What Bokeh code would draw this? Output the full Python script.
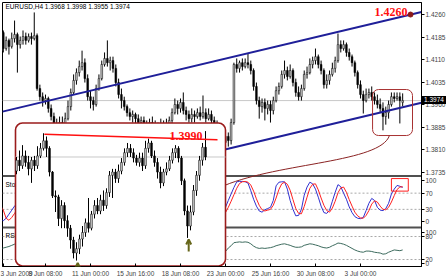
from bokeh.plotting import figure
from bokeh.layouts import column
from bokeh.models import (Range1d, FixedTicker, PrintfTickFormatter, Span, Label,
                          Arrow, OpenHead, ColumnDataSource, AllLabels, Div)
from bokeh.embed import file_html
from bokeh.resources import INLINE
from bokeh.core.properties import value

# ======================= DATA =======================
symbol = "EURUSD,H4"

# H4 bars, prices written as pips over 1.0000 (e.g. 3974 -> 1.3974)
open_pips = [4140, 4200, 4147, 4174, 4154, 4180, 4194, 4160, 4174, 4187,
             4174, 4187, 4180, 4190, 4014, 3987, 3974, 3981, 3948, 3921,
             3894, 3881, 3901, 3888, 3914, 3954, 4001, 4041, 4067, 4087,
             4100, 4047, 3987, 3974, 3961, 4014, 4047, 4094, 4114, 4100,
             4107, 4081, 4034, 3994, 3974, 3954, 3934, 3921, 3928, 3914,
             3901, 3908, 3894, 3888, 3901, 3894, 3881, 3888, 3894, 3888,
             3894, 3908, 3934, 3961, 3948, 3968, 3941, 3928, 3914, 3928,
             3921, 3934, 3921, 3934, 3914, 3928, 3908, 3894, 3875, 3848,
             3835, 3855, 3841, 3901, 4094, 4081, 4100, 4087, 4100, 4094,
             4074, 4021, 3974, 3954, 3968, 3948, 3961, 3941, 3974, 4007,
             4021, 4061, 4074, 4054, 4074, 4034, 4001, 3987, 4014, 4061,
             4067, 4094, 4107, 4120, 4094, 4074, 4027, 4041, 4061, 4081,
             4107, 4160, 4147, 4160, 4134, 4120, 4100, 4067, 4027, 3994,
             3974, 3994, 4001, 3987, 3974, 3961, 3948, 3921, 3934, 3961,
             3987, 3981, 3987, 3968]
close_pips = [4200, 4147, 4174, 4154, 4180, 4194, 4160, 4174, 4187, 4174,
              4187, 4180, 4190, 4014, 3987, 3974, 3981, 3948, 3921, 3894,
              3881, 3901, 3888, 3914, 3954, 4001, 4041, 4067, 4087, 4100,
              4047, 3987, 3974, 3961, 4014, 4047, 4094, 4114, 4100, 4107,
              4081, 4034, 3994, 3974, 3954, 3934, 3921, 3928, 3914, 3901,
              3908, 3894, 3888, 3901, 3894, 3881, 3888, 3894, 3888, 3894,
              3908, 3934, 3961, 3948, 3968, 3941, 3928, 3914, 3928, 3921,
              3934, 3921, 3934, 3914, 3928, 3908, 3894, 3875, 3848, 3835,
              3855, 3841, 3901, 4094, 4081, 4100, 4087, 4100, 4094, 4074,
              4021, 3974, 3954, 3968, 3948, 3961, 3941, 3974, 4007, 4021,
              4061, 4074, 4054, 4074, 4034, 4001, 3987, 4014, 4061, 4067,
              4094, 4107, 4120, 4094, 4074, 4027, 4041, 4061, 4081, 4107,
              4160, 4147, 4160, 4134, 4120, 4100, 4067, 4027, 3994, 3974,
              3994, 4001, 3987, 3974, 3961, 3948, 3921, 3934, 3961, 3987,
              3981, 3987, 3974, 3974]
high_pips = [4213, 4207, 4187, 4180, 4200, 4240, 4200, 4187, 4207, 4200,
             4197, 4200, 4267, 4197, 4027, 4001, 3994, 3987, 3961, 3934,
             3914, 3921, 3921, 3934, 3974, 4014, 4061, 4081, 4107, 4140,
             4114, 4061, 4007, 3987, 4027, 4061, 4107, 4134, 4174, 4120,
             4120, 4094, 4047, 4014, 3987, 3961, 3948, 3941, 3934, 3928,
             3921, 3921, 3908, 3914, 3921, 3908, 3901, 3914, 3908, 3914,
             3921, 3948, 3981, 3974, 3981, 4001, 3954, 3941, 3948, 3941,
             3948, 3954, 3991, 3948, 3948, 3941, 3921, 3908, 3888, 3861,
             3875, 3868, 3914, 4100, 4114, 4107, 4114, 4114, 4130, 4107,
             4081, 4034, 3987, 3981, 3981, 3974, 3974, 3987, 4021, 4034,
             4074, 4107, 4087, 4094, 4081, 4047, 4021, 4027, 4074, 4087,
             4114, 4120, 4147, 4127, 4107, 4081, 4061, 4074, 4100, 4120,
             4197, 4174, 4174, 4167, 4147, 4127, 4107, 4074, 4041, 4007,
             4014, 4014, 4021, 4001, 3994, 3981, 3968, 3954, 3974, 4001,
             4001, 4001, 4001, 3998]
low_pips = [4124, 4134, 4140, 4127, 4147, 4167, 4067, 4147, 4160, 4160,
            4167, 4160, 4174, 4007, 3974, 3954, 3961, 3934, 3908, 3881,
            3861, 3868, 3875, 3881, 3908, 3941, 3994, 4027, 4054, 4074,
            4034, 3974, 3948, 3941, 3954, 4007, 4041, 4087, 4087, 4074,
            4067, 4021, 3981, 3948, 3941, 3921, 3908, 3901, 3888, 3881,
            3888, 3875, 3868, 3875, 3881, 3861, 3868, 3875, 3875, 3881,
            3888, 3894, 3928, 3928, 3934, 3928, 3908, 3901, 3901, 3901,
            3914, 3908, 3914, 3901, 3908, 3894, 3881, 3861, 3835, 3821,
            3815, 3821, 3828, 3894, 4067, 4067, 4074, 4081, 4081, 4061,
            4007, 3961, 3914, 3934, 3908, 3928, 3901, 3928, 3968, 3994,
            4014, 4047, 4041, 4047, 4021, 3987, 3974, 3974, 4007, 4047,
            4061, 4081, 4094, 4081, 4061, 4014, 4014, 4027, 4054, 4067,
            4100, 4134, 4140, 4120, 4107, 4087, 4054, 4014, 3981, 3931,
            3968, 3981, 3974, 3961, 3948, 3934, 3875, 3894, 3914, 3954,
            3968, 3974, 3898, 3955]

stoch_k = [3, 2, 8, 18, 28, 38, 45, 52, 65, 70,
           75, 78, 80, 45, 25, 15, 12, 10, 8, 6,
           5, 12, 15, 25, 45, 65, 80, 88, 92, 95,
           75, 50, 35, 28, 45, 62, 80, 90, 92, 90,
           80, 60, 40, 28, 20, 12, 8, 10, 12, 10,
           15, 18, 20, 30, 35, 32, 38, 45, 42, 48,
           60, 78, 90, 85, 88, 80, 65, 55, 58, 55,
           60, 58, 62, 55, 50, 40, 30, 20, 15, 22,
           35, 52, 68, 84, 98, 99, 99, 98, 95, 76,
           55, 38, 26, 23, 29, 32, 35, 52, 88, 97,
           98, 98, 80, 52, 30, 14, 15, 30, 65, 85,
           97, 93, 80, 60, 38, 22, 20, 28, 50, 72,
           91, 86, 70, 55, 36, 22, 12, 8, 7, 10,
           27, 45, 57, 52, 35, 28, 27, 32, 45, 68,
           80, 89, 87, 84]
stoch_d = [40, 28, 8, 3, 10, 20, 30, 42, 52, 62,
           70, 74, 78, 68, 50, 28, 17, 12, 10, 8,
           6, 8, 11, 17, 28, 45, 63, 78, 87, 92,
           87, 73, 53, 38, 36, 45, 62, 77, 87, 91,
           87, 77, 60, 43, 29, 20, 13, 10, 10, 11,
           12, 14, 18, 23, 28, 32, 35, 38, 42, 45,
           50, 62, 76, 84, 88, 84, 78, 67, 59, 56,
           58, 58, 60, 58, 56, 48, 40, 30, 22, 18,
           22, 35, 50, 66, 82, 94, 98, 99, 97, 90,
           75, 56, 40, 29, 26, 28, 30, 40, 58, 79,
           93, 97, 92, 77, 54, 32, 20, 19, 37, 60,
           82, 92, 93, 78, 58, 40, 27, 23, 33, 50,
           71, 83, 85, 72, 54, 38, 23, 14, 9, 8,
           15, 27, 43, 51, 48, 38, 30, 29, 35, 48,
           64, 79, 85, 86]
rsi = [48, 50, 52, 54, 57, 60, 58, 59, 61, 60,
       61, 60, 61, 45, 40, 38, 39, 36, 33, 30,
       29, 32, 31, 35, 42, 50, 56, 60, 62, 63,
       56, 48, 46, 45, 51, 55, 60, 62, 61, 61,
       58, 52, 47, 45, 43, 40, 39, 40, 39, 38,
       39, 38, 37, 39, 38, 37, 38, 39, 38, 39,
       41, 45, 50, 48, 51, 48, 46, 44, 46, 45,
       47, 45, 47, 44, 46, 43, 41, 38, 35, 37,
       41, 50, 56, 64, 65, 66, 65, 66, 65, 61,
       55, 51, 49, 50, 49, 50, 51, 53, 56, 58,
       60, 61, 59, 57, 54, 52, 52, 53, 57, 59,
       61, 60, 58, 56, 53, 51, 50, 52, 56, 59,
       63, 62, 60, 57, 53, 49, 45, 42, 40, 39,
       42, 42, 41, 39, 38, 37, 34, 35, 39, 42,
       45, 44, 43, 45]

date_tick_bars = [1, 16, 32, 48, 64, 80, 96, 112, 128]
date_tick_labels = ["3 Jun 2009", "8 Jun 08:00", "11 Jun 00:00", "15 Jun 16:00",
                    "18 Jun 08:00", "23 Jun 00:00", "25 Jun 16:00", "30 Jun 08:00",
                    "3 Jul 00:00"]
price_ticks = [1.4260, 1.4185, 1.4110, 1.4035, 1.3960, 1.3885, 1.3810, 1.3735]
stoch_levels = [100, 70, 30, 0]
stoch_dashed = [70, 30]
rsi_levels = [100, 80, 20, 0]
rsi_dashed = [80, 20]

target_price = 1.4260
target_bar = 145.8
channel_slope = 0.0002224          # price per bar
upper_anchor = (145.8, 1.4260)
lower_anchor = (128.0, 1.39187)

# zoomed (lower timeframe) view shown in the inset
inset_open = [3958, 3968, 3963, 3972, 3966, 3960, 3968, 3963, 3972, 3979,
              3986, 3979, 3957, 3935, 3934, 3914, 3926, 3912, 3905, 3894,
              3882, 3886, 3895, 3901, 3910, 3905, 3918, 3926, 3921, 3931,
              3926, 3938, 3954, 3957, 3951, 3958, 3966, 3975, 3979, 3975,
              3970, 3966, 3970, 3963, 3979, 3984, 3972, 3966, 3957, 3947,
              3957, 3960, 3968, 3975, 3979, 3970, 3949, 3921, 3907, 3920,
              3940, 3954, 3968, 3980]
inset_close = [3968, 3963, 3972, 3966, 3960, 3968, 3963, 3972, 3979, 3986,
               3979, 3957, 3935, 3934, 3914, 3926, 3912, 3905, 3894, 3882,
               3886, 3895, 3901, 3910, 3905, 3918, 3926, 3921, 3931, 3926,
               3938, 3954, 3957, 3951, 3958, 3966, 3975, 3979, 3975, 3970,
               3966, 3970, 3963, 3979, 3984, 3972, 3966, 3957, 3947, 3957,
               3960, 3968, 3975, 3979, 3970, 3949, 3921, 3907, 3920, 3940,
               3954, 3968, 3980, 3971]
inset_high = [3971, 3977, 3982, 3977, 3972, 3971, 3972, 3981, 3984, 3993,
              3990, 3981, 3958, 3940, 3936, 3931, 3929, 3917, 3908, 3897,
              3892, 3899, 3907, 3914, 3933, 3921, 3931, 3933, 3936, 3940,
              3942, 3958, 3960, 3960, 3964, 3970, 3979, 3984, 3983, 3979,
              3973, 3975, 3975, 3986, 3988, 3986, 3977, 3970, 3962, 3960,
              3966, 3972, 3979, 3982, 3981, 3972, 3951, 3926, 3926, 3945,
              3958, 3972, 3984, 3995]
inset_low = [3955, 3958, 3960, 3962, 3954, 3947, 3958, 3960, 3970, 3977,
             3971, 3953, 3933, 3920, 3907, 3905, 3905, 3897, 3886, 3877,
             3875, 3881, 3888, 3897, 3901, 3903, 3914, 3918, 3918, 3921,
             3923, 3934, 3933, 3947, 3947, 3955, 3963, 3971, 3971, 3966,
             3963, 3962, 3958, 3960, 3975, 3970, 3962, 3951, 3942, 3944,
             3954, 3958, 3965, 3970, 3966, 3945, 3917, 3896, 3903, 3917,
             3935, 3949, 3963, 3968]
neck_price = 1.3990
neck_x = [9.3, 67.0]
neck_y = [1.3992, 1.3987]
arrow_bars = [20.4, 57.4]
arrow_tips = [1.38728, 1.38945]
arrow_tails = [1.38670, 1.38834]

# ======================= LAYOUT =======================
X_RANGE = (0.71, 149.7)
PRICE_RANGE = (1.34226, 1.4300)
STOCH_RANGE = (-111.1, 540.7)
RSI_RANGE = (1.8, 690.6)
INSET_X_RANGE = (-4.667, 135.0)
INSET_Y_RANGE = (1.38695, 1.41142)
INSET_BOX = dict(left=-0.333, right=69.67, top=1.40025, bottom=1.3870)
SMALL_BOX = dict(left=132.3, right=146.5, top=1.40108, bottom=1.38579)
STOCH_BOX = dict(left=139.0, right=145.0, top=106.0, bottom=75.0)
CURVE = dict(x0=138.3, y0=1.38579, cx0=135.1, cy0=1.37682,
             cx1=99.6, cy1=1.37682, x1=79.6, y1=1.36918)
MAIN_BOTTOM = 1.37234
STOCH_BOTTOM = -14.8
# where MT4 prints the RSI window's level labels (top / bottom ones nudged inward)
RSI_LABEL_AT = {100: 90.5, 80: 80, 20: 20, 0: 9.7}

FONT = "Liberation Sans"
FS = "6.5px"
BULL = "#c4c4c4"
BEAR = "#000000"


def to_price(v):
    return 1.0 + v / 10000.0


def remap(v, src, dst):
    return dst[0] + (v - src[0]) * (dst[1] - dst[0]) / (src[1] - src[0])


def candle_source(xs, o, h, l, c):
    O = [to_price(v) for v in o]
    C = [to_price(v) for v in c]
    return ColumnDataSource(dict(
        x=xs,
        h=[to_price(v) for v in h],
        l=[to_price(v) for v in l],
        top=[max(a, b) for a, b in zip(O, C)],
        bottom=[min(a, b) for a, b in zip(O, C)],
        fill=[BULL if b >= a else BEAR for a, b in zip(O, C)],
    ))


p = figure(width=448, height=280, x_range=Range1d(*X_RANGE),
           y_range=Range1d(*PRICE_RANGE), y_axis_location="right",
           output_backend="svg", toolbar_location=None,
           min_border_left=2, min_border_right=27, min_border_top=2,
           min_border_bottom=14, background_fill_color="white",
           border_fill_color="white", outline_line_color="black")
p.extra_x_ranges = {"inset_x": Range1d(*INSET_X_RANGE)}
p.extra_y_ranges = {"stoch": Range1d(*STOCH_RANGE), "rsi": Range1d(*RSI_RANGE),
                    "inset_y": Range1d(*INSET_Y_RANGE)}
p.xgrid.visible = False
p.ygrid.visible = False

# x axis (dates)
xa = p.xaxis[0]
xa.ticker = FixedTicker(ticks=date_tick_bars)
xa.major_label_overrides = {b: t for b, t in zip(date_tick_bars, date_tick_labels)}
xa.major_label_policy = AllLabels()
xa.major_label_text_align = "left"
xa.major_label_text_font = FONT
xa.major_label_text_font_size = FS
xa.major_tick_in = 3
xa.major_tick_out = 0
xa.minor_tick_line_color = None
xa.major_label_standoff = 3
xa.axis_line_color = "black"

# right axis: price scale plus the level labels of the two sub-windows
level_ticks = {}
for lv in stoch_levels:
    level_ticks[remap(lv, STOCH_RANGE, PRICE_RANGE)] = str(lv)
for lv in rsi_levels:
    level_ticks[remap(RSI_LABEL_AT[lv], RSI_RANGE, PRICE_RANGE)] = str(lv)
ya = p.yaxis[0]
ya.ticker = FixedTicker(ticks=price_ticks + list(level_ticks.keys()))
ya.formatter = PrintfTickFormatter(format="%.4f")
ya.major_label_overrides = level_ticks
ya.major_label_policy = AllLabels()
ya.major_label_text_font = FONT
ya.major_label_text_font_size = FS
ya.major_tick_in = 0
ya.major_tick_out = 3
ya.minor_tick_line_color = None
ya.major_label_standoff = 1

# underlay lines
last_close = to_price(close_pips[-1])
p.add_layout(Span(location=last_close, dimension="width", line_color="#c8c8c8",
                  line_width=1, level="underlay"))
for lv in stoch_dashed:
    p.add_layout(Span(location=lv, dimension="width", y_range_name="stoch",
                      line_color="#a8a8a8", line_dash="2 2", line_width=1,
                      level="underlay"))
for lv in rsi_dashed:
    p.add_layout(Span(location=lv, dimension="width", y_range_name="rsi",
                      line_color="#a8a8a8", line_dash="2 2", line_width=1,
                      level="underlay"))
p.add_layout(Span(location=MAIN_BOTTOM, dimension="width", line_color="#505050",
                  line_width=2, level="underlay"))
p.add_layout(Span(location=STOCH_BOTTOM, dimension="width", y_range_name="stoch",
                  line_color="#505050", line_width=2, level="underlay"))

# main candles
n = len(close_pips)
src = candle_source(list(range(n)), open_pips, high_pips, low_pips, close_pips)
p.segment(x0="x", y0="l", x1="x", y1="h", source=src, line_color="black", line_width=1)
p.vbar(x="x", width=0.62, top="top", bottom="bottom", fill_color="fill",
       line_color="black", line_width=0.5, source=src)

# channel
ux, uy = upper_anchor
lx, ly = lower_anchor
xe = X_RANGE[1]
p.line([X_RANGE[0], xe], [uy + channel_slope * (X_RANGE[0] - ux), uy + channel_slope * (xe - ux)],
       line_color="#1f1f99", line_width=2)
xs0 = 60.0
p.line([xs0, xe], [ly + channel_slope * (xs0 - lx), ly + channel_slope * (xe - lx)],
       line_color="#1f1f99", line_width=2)
p.scatter([target_bar], [target_price], size=5, color="#8b1a1a")
p.text([target_bar], [target_price], text=[f"{target_price:.4f}"], text_align="right",
       text_baseline="middle", x_offset=-3, y_offset=-3,
       text_font=value("Liberation Serif"), text_font_style="bold",
       text_font_size=value("12px"), text_color="#ff1010")

# oscillators
xs = list(range(n))
p.line(xs, stoch_k, y_range_name="stoch", line_color="#3030d0", line_width=1)
p.line(xs, stoch_d, y_range_name="stoch", line_color="#ff2020", line_width=1)
p.line(xs, rsi, y_range_name="rsi", line_color="#3d6b5e", line_width=1)

p.text([X_RANGE[0]], [100], text=["Stoch(5,3,3)"], y_range_name="stoch",
       x_offset=3, text_baseline="top", text_font=value(FONT),
       text_font_size=value(FS), text_color="black")
p.text([X_RANGE[0]], [100], text=["RSI(14)"], y_range_name="rsi",
       x_offset=3, y_offset=3, text_baseline="top", text_font=value(FONT),
       text_font_size=value(FS), text_color="black")

# highlight boxes and connector
p.quad(left=[SMALL_BOX["left"]], right=[SMALL_BOX["right"]], top=[SMALL_BOX["top"]],
       bottom=[SMALL_BOX["bottom"]], fill_color=None, line_color="#a83232",
       line_width=1, border_radius=6)
p.quad(left=[STOCH_BOX["left"]], right=[STOCH_BOX["right"]], top=[STOCH_BOX["top"]],
       bottom=[STOCH_BOX["bottom"]], y_range_name="stoch", fill_color=None,
       line_color="#ff2020", line_width=1)
p.bezier(x0=[CURVE["x0"]], y0=[CURVE["y0"]], x1=[CURVE["x1"]], y1=[CURVE["y1"]],
         cx0=[CURVE["cx0"]], cy0=[CURVE["cy0"]], cx1=[CURVE["cx1"]], cy1=[CURVE["cy1"]],
         line_color="#8b2323", line_width=1)

# inset
IR = dict(x_range_name="inset_x", y_range_name="inset_y")
p.quad(left=[INSET_BOX["left"]], right=[INSET_BOX["right"]], top=[INSET_BOX["top"]],
       bottom=[INSET_BOX["bottom"]], fill_color="white", line_color="#9b1c1c",
       line_width=1.6, border_radius=7, **IR)
ilast = to_price(inset_close[-1])
p.line([INSET_BOX["left"], INSET_BOX["right"]], [ilast, ilast], line_color="#c8c8c8",
       line_width=1, **IR)
isrc = candle_source(list(range(len(inset_close))), inset_open, inset_high, inset_low,
                     inset_close)
p.segment(x0="x", y0="l", x1="x", y1="h", source=isrc, line_color="black",
          line_width=1, **IR)
p.vbar(x="x", width=0.62, top="top", bottom="bottom", fill_color="fill",
       line_color="black", line_width=0.5, source=isrc, **IR)
p.line(neck_x, neck_y, line_color="#ff1010", line_width=1.5, **IR)
p.text([62.0], [neck_price], text=[f"{neck_price:.4f}"], text_align="right",
       text_baseline="alphabetic", text_font=value("Liberation Serif"),
       text_font_style="bold", text_font_size=value("12px"), text_color="#ff1010", **IR)
for ax, tip, tail in zip(arrow_bars, arrow_tips, arrow_tails):
    p.add_layout(Arrow(end=OpenHead(size=5, line_color="#66661a", line_width=2),
                       x_start=ax, y_start=tail, x_end=ax, y_end=tip,
                       line_color="#66661a", line_width=2, **IR))

# header
hdr = " ".join(f"{to_price(v):.4f}" for v in
               (open_pips[-1], high_pips[-1], low_pips[-1], close_pips[-1]))
p.add_layout(Label(x=X_RANGE[0], y=PRICE_RANGE[1], x_offset=3, text=f"{symbol}  {hdr}",
                   text_baseline="top", text_font=FONT, text_font_size=FS,
                   text_color="black"))

# current-price marker on the price scale (black box), placed over the axis area
bid_top = remap(last_close, PRICE_RANGE[::-1], (2, 266)) - 4
bid_box = Div(text=f"{last_close:.4f}", margin=0,
              styles={"position": "absolute", "left": "422px", "top": f"{bid_top:.0f}px",
                      "background-color": "black", "color": "white",
                      "font-family": FONT, "font-size": FS, "line-height": "8px",
                      "padding": "0px 2px", "z-index": "10"})

layout = column(p, bid_box, spacing=0)
open("out.html", "w").write(file_html(layout, INLINE))
